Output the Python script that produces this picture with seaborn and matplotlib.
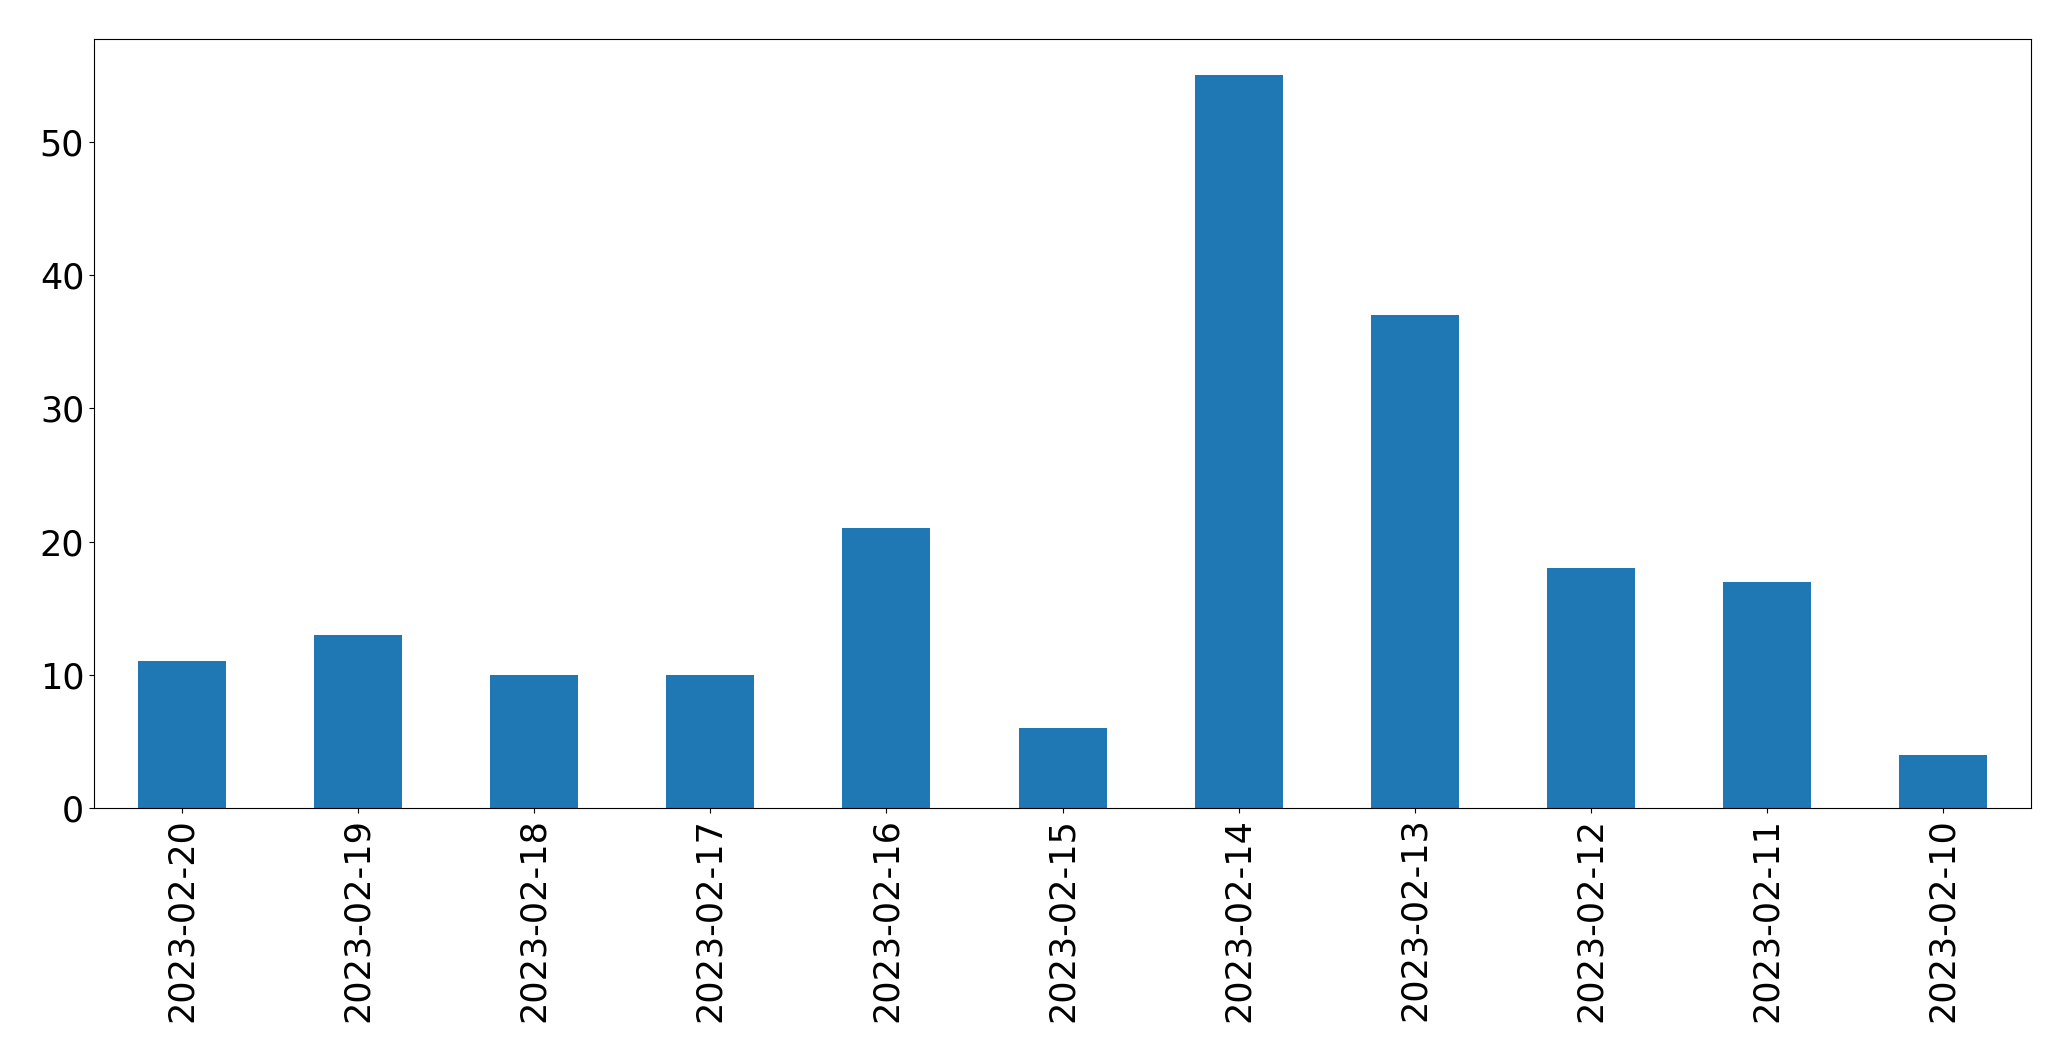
import matplotlib
matplotlib.use("Agg")
import matplotlib.pyplot as plt
import seaborn as sns
import pandas as pd

dates = ["2023-02-20", "2023-02-19", "2023-02-18", "2023-02-17", "2023-02-16",
         "2023-02-15", "2023-02-14", "2023-02-13", "2023-02-12", "2023-02-11",
         "2023-02-10"]
counts = [11, 13, 10, 10, 21, 6, 55, 37, 18, 17, 4]

df = pd.DataFrame({"date": dates, "count": counts})

fig = plt.figure(figsize=(20.71, 10.61), dpi=100)
ax = fig.add_axes([0.0454, 0.2385, 0.9353, 0.7250])
sns.barplot(data=df, x="date", y="count", order=dates, color="#1f77b4",
            saturation=1, width=0.5, linewidth=0, ax=ax)
ax.set_xlim(-0.5, len(dates) - 0.5)
ax.set_ylim(0, 57.75)
ax.set_yticks([0, 10, 20, 30, 40, 50])
ax.set_xlabel("")
ax.set_ylabel("")
ax.tick_params(axis="both", labelsize=25.2)
plt.setp(ax.get_xticklabels(), rotation=90)
for s in ax.spines.values():
    s.set_visible(True)
fig.savefig("out.png", dpi=100)
